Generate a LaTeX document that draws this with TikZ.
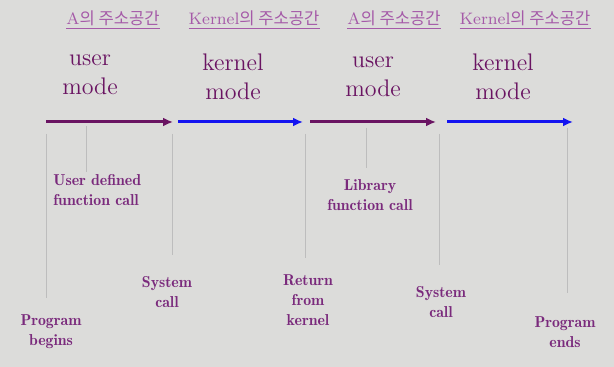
\documentclass[tikz,border=0pt]{standalone}
\usepackage{fontspec}
\newfontfamily\krfont{Noto Sans CJK KR}
\newfontfamily\demi{lmromandemi10-regular.otf}
\usetikzlibrary{arrows.meta}
\definecolor{bgc}{HTML}{DCDCDA}
\definecolor{upurple}{HTML}{6A1462}
\definecolor{kblue}{HTML}{1414F0}
\definecolor{tpurple}{HTML}{7A2A7C}
\definecolor{hpurple}{HTML}{A55AA8}
\definecolor{vline}{HTML}{BDBDBD}
\begin{document}
\begin{tikzpicture}[x=0.5pt,y=-0.5pt,
  modeline/.style={line width=1.5pt,-{Latex[length=5pt,width=4.5pt]}},
  usr/.style={modeline,draw=upurple,color=upurple},
  krn/.style={modeline,draw=kblue,color=kblue},
  tick/.style={draw=vline,line width=0.5pt},
  head/.style={text=hpurple,inner sep=1pt,font=\fontsize{8.3}{9}\selectfont},
  modetxt/.style={text=upurple,align=center,inner sep=0pt,font=\fontsize{12}{14.5}\selectfont},
  lbl/.style={text=tpurple,align=center,inner sep=0pt,font=\demi\fontsize{7.9}{10}\selectfont}]
\fill[bgc] (0,0) rectangle (614,367);
\useasboundingbox (0,0) rectangle (614,367);
% headings
\node[head] (h1) at (113,20) {\underline{A{\krfont 의 주소공간}}};
\node[head] (h2) at (254,20) {\underline{Kernel{\krfont 의 주소공간}}};
\node[head] (h3) at (394,20) {\underline{A{\krfont 의 주소공간}}};
\node[head] (h4) at (525,20) {\underline{Kernel{\krfont 의 주소공간}}};
% mode texts
\node[modetxt] (m1) at (90,75) {user\\mode};
\node[modetxt] (m2) at (233,77) {kernel\\mode};
\node[modetxt] (m3) at (373,77) {user\\mode};
\node[modetxt] (m4) at (503,77) {kernel\\mode};
% arrow endpoints
\coordinate (a1s) at (46,122); \coordinate (a1e) at (173,122);
\coordinate (a2s) at (178,122); \coordinate (a2e) at (303,122);
\coordinate (a3s) at (310,122); \coordinate (a3e) at (436,122);
\coordinate (a4s) at (447,122); \coordinate (a4e) at (573,122);
\draw[usr] (a1s) -- (a1e);
\draw[krn] (a2s) -- (a2e);
\draw[usr] (a3s) -- (a3e);
\draw[krn] (a4s) -- (a4e);
% tick lines
\coordinate (t1a) at (46,134); \coordinate (t1b) at (46,298);
\coordinate (t2a) at (86,126); \coordinate (t2b) at (86,172);
\coordinate (t3a) at (172,134); \coordinate (t3b) at (172,255);
\coordinate (t4a) at (305,134); \coordinate (t4b) at (305,258);
\coordinate (t5a) at (366,128); \coordinate (t5b) at (366,168);
\coordinate (t6a) at (439,134); \coordinate (t6b) at (439,265);
\coordinate (t7a) at (567,128); \coordinate (t7b) at (567,293);
\foreach \i in {1,...,7} {\draw[tick] (t\i a) -- (t\i b);}
% labels
\node[lbl,align=left,anchor=west] (l1) at (53,190) {User defined\\function call};
\node[lbl] (l2) at (167,292) {System\\call};
\node[lbl] (l3) at (51,332) {Program\\begins};
\node[lbl] (l4) at (308,300) {Return\\from\\kernel};
\node[lbl] (l5) at (370,195) {Library\\function call};
\node[lbl] (l6) at (441,302) {System\\call};
\node[lbl] (l7) at (565,332) {Program\\ends};
\end{tikzpicture}
\end{document}
